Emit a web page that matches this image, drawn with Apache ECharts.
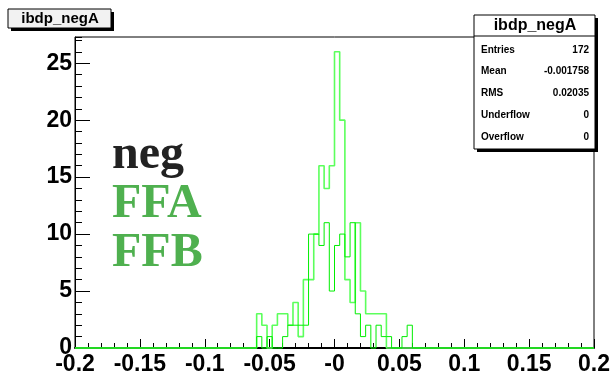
<!DOCTYPE html>
<html>
<head>
<meta charset="utf-8">
<title>ibdp_negA</title>
<script src="https://cdn.jsdelivr.net/npm/echarts@6/dist/echarts.min.js"></script>
</head>
<body style="margin:0">
<div id="c" style="width:616px;height:376px;"></div>
<script>
// histogram bins, 0.004 wide, first listed bin starts at -0.06
var binWidth = 0.004;
var firstEdge = -0.06;
var ffa = [3,2,0,2,3,3,2,4,1,6,6,10,16,14,16,26,20,6,4,11,5,3,3,3,3,0,0,0,0,0];
var ffb = [1,0,1,0,0,1,2,2,2,2,10,10,9,11,5,9,10,8,11,3,1,2,0,2,1,1,0,0,1,2];
var xTicks = ['-0.2','-0.15','-0.1','-0.05','-0','0.05','0.1','0.15','0.2'];
var statNames = ['Entries','Mean','RMS','Underflow','Overflow'];
var statValues = ['172','-0.001758','0.02035','0','0'];
var legendNames = ['neg','FFA','FFB'];

// turn bin contents into step points (start of each bin), zero outside
function steps(counts){
    var pts = [[-0.2, 0]];
    for (var i = 0; i < counts.length; i++) {
        pts.push([+(firstEdge + i * binWidth).toFixed(3), counts[i]]);
    }
    pts.push([+(firstEdge + counts.length * binWidth).toFixed(3), 0]);
    pts.push([0.2, 0]);
    return pts;
}

var legendColors = ['#222222','#4fb04f','#4fb04f'];

var graphics = [
    // title box
    {type:'rect', shape:{x:11, y:12, width:103, height:19}, style:{fill:'#000'}},
    {type:'rect', shape:{x:8, y:9, width:103, height:19}, style:{fill:'#f2f2f2', stroke:'#000', lineWidth:1}},
    {type:'text', style:{text:'ibdp_negA', x:60, y:18.5, textAlign:'center', textVerticalAlign:'middle',
        font:'bold 15px "Liberation Sans", Arial, sans-serif', fill:'#000'}},
    // stats box
    {type:'rect', shape:{x:477, y:18, width:121, height:134}, style:{fill:'#000'}},
    {type:'rect', shape:{x:474, y:15, width:121, height:134}, style:{fill:'#fff', stroke:'#000', lineWidth:1}},
    {type:'line', shape:{x1:474, y1:36, x2:595, y2:36}, style:{stroke:'#000', lineWidth:1}},
    {type:'text', style:{text:'ibdp_negA', x:535, y:26, textAlign:'center', textVerticalAlign:'middle',
        font:'bold 16px "Liberation Sans", Arial, sans-serif', fill:'#000'}}
];
for (var i = 0; i < statNames.length; i++) {
    var ry = 50 + i * 21.7;
    graphics.push({type:'text', style:{text:statNames[i], x:481, y:ry, textVerticalAlign:'middle',
        font:'bold 10px "Liberation Sans", Arial, sans-serif', fill:'#000'}});
    graphics.push({type:'text', style:{text:statValues[i], x:589, y:ry, textAlign:'right', textVerticalAlign:'middle',
        font:'bold 10px "Liberation Sans", Arial, sans-serif', fill:'#000'}});
}
for (var j = 0; j < legendNames.length; j++) {
    graphics.push({type:'text', style:{text:legendNames[j], x:112, y:180 + j * 49, textVerticalAlign:'bottom',
        font:'bold 48px "Liberation Serif", "Times New Roman", serif', fill:legendColors[j]}});
}

var labelFont = '"Liberation Sans", Arial, sans-serif';
var myChart = echarts.init(document.getElementById('c'));
var option = {
    animation: false,
    backgroundColor: '#fff',
    grid: {left:75, right:22, top:37, bottom:28, show:true, borderColor:'#000', borderWidth:1},
    xAxis: {
        type:'value', min:-0.2, max:0.2, interval:0.05,
        axisLine:{onZero:false, lineStyle:{color:'#000', width:2}},
        axisTick:{inside:true, length:9, lineStyle:{color:'#000'}},
        minorTick:{show:true, splitNumber:5, length:5, lineStyle:{color:'#000'}},
        splitLine:{show:false},
        axisLabel:{margin:5, color:'#000', fontSize:23, fontWeight:'bold', fontFamily:labelFont,
            formatter:function(v){ return xTicks[Math.round((v + 0.2) / 0.05)]; }}
    },
    yAxis: [{
        type:'value', min:0, max:27.3, interval:5,
        axisLine:{show:true, onZero:false, lineStyle:{color:'#000', width:1}},
        axisTick:{inside:true, length:15, lineStyle:{color:'#000'}},
        splitLine:{show:false},
        axisLabel:{margin:3, color:'#000', fontSize:23, fontWeight:'bold', fontFamily:labelFont,
            showMaxLabel:false,
            formatter:function(v){ return v % 5 === 0 ? String(v) : ''; }}
    }, {
        type:'value', min:0, max:27.3, interval:1, position:'left',
        axisLine:{show:false, onZero:false},
        axisTick:{inside:true, length:7, lineStyle:{color:'#000'}},
        splitLine:{show:false},
        axisLabel:{show:false}
    }],
    series: [{
        name:'FFA', type:'line', step:'end', data:steps(ffa), showSymbol:false, clip:false,
        lineStyle:{color:'#5cff5c', width:1.6}
    }, {
        name:'FFB', type:'line', step:'end', data:steps(ffb), showSymbol:false, clip:false,
        lineStyle:{color:'#00ee00', width:1}
    }],
    graphic: graphics
};
myChart.setOption(option);
</script>
</body>
</html>
